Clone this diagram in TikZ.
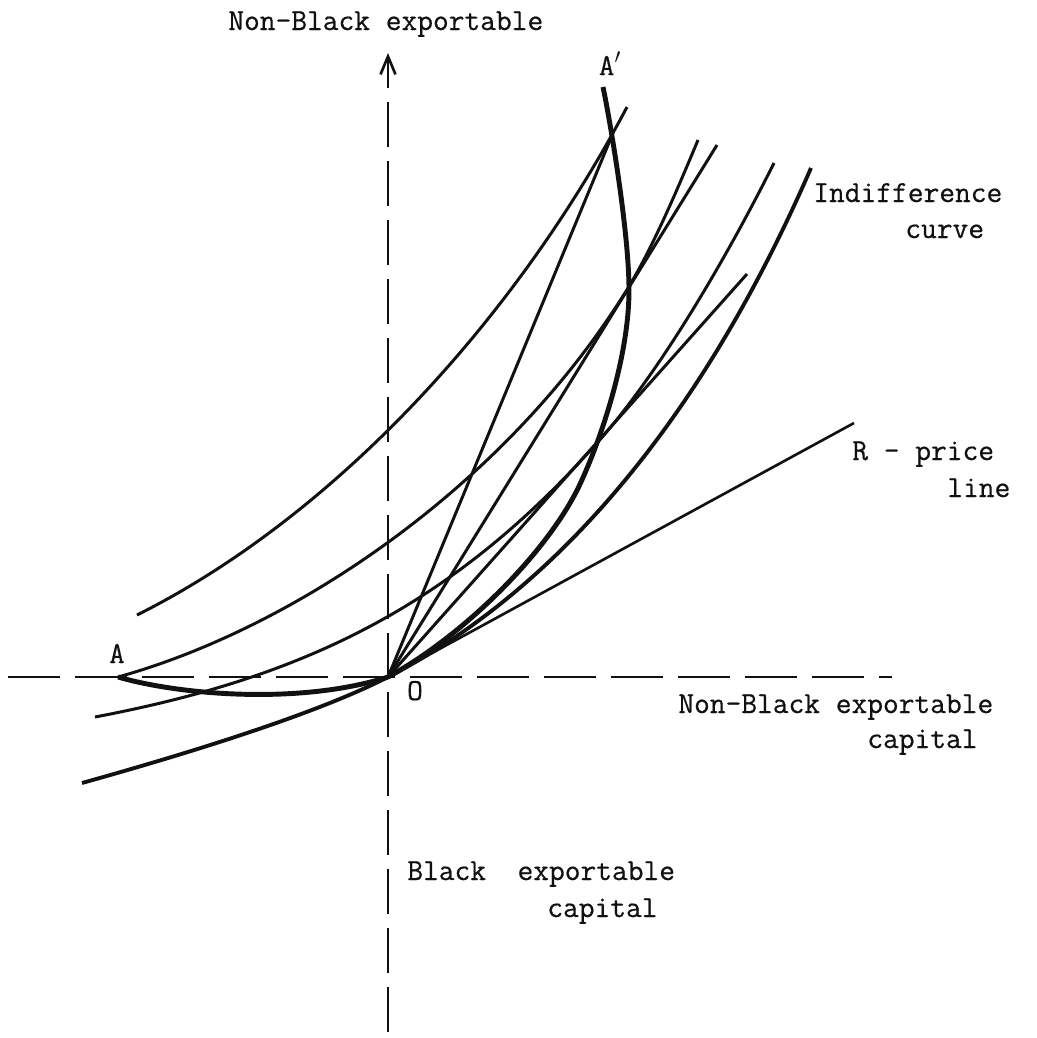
\documentclass[tikz,border=0pt]{standalone}
\usepackage{fontspec}
\newfontfamily\typewriter{Latin Modern Mono}[FakeBold=0.6]
\usetikzlibrary{arrows.meta}
\definecolor{plotInk}{HTML}{111111}
\tikzset{
  every picture/.style={font=\typewriter\fontsize{17.4}{20}\selectfont, text=plotInk},
  plot axis/.style={draw=plotInk, line width=1.5pt, dash pattern=on 9mm off 2.8mm},
  plot curve/.style={draw=plotInk, line width=1.7pt},
  plot locus/.style={draw=plotInk, line width=2.8pt},
  plot price/.style={draw=plotInk, line width=1.5pt},
  plot label/.style={anchor=base west, inner sep=0pt},
  plot arrow/.style={-{Straight Barb[length=3.6mm,width=3mm]}}
}

\begin{document}
\begin{tikzpicture}[x=0.02cm, y=-0.02cm]
  \useasboundingbox (0,0) rectangle (1037,1038);
  % origin and axis ends
  \coordinate (O) at (388,677);
  \coordinate (A) at (118,677);
  \coordinate (Ap) at (603,87);
  \coordinate (ybot) at (388,1032);
  \coordinate (ytop) at (388,53);
  \coordinate (xleft) at (8,677);
  \coordinate (xright) at (892,677);
  % ends of the price lines
  \coordinate (p1) at (613,133);
  \coordinate (p2) at (717,145);
  \coordinate (p3) at (747,274);
  \coordinate (pR) at (854,423);
  % tangency points on O A'
  \coordinate (t2) at (628,288);
  \coordinate (t3) at (597,443);

  \draw[plot axis, plot arrow] (ybot) -- (ytop);
  \draw[plot axis, dash pattern=on 10.4mm off 3mm] (xleft) -- (xright);

  % indifference curves
  \draw[plot curve] (137,615) .. controls (337,515) and (517,316) .. (627,107);
  \draw[plot curve] (A) .. controls (298,627) and (508,483) .. (t2)
    .. controls (653,247) and (678,188) .. (698,140);
  \draw[plot curve] (95,717) .. controls (295,679) and (447,612) .. (t3)
    .. controls (657,376) and (724,263) .. (774,163);
  \draw[plot curve, line width=2.2pt] (82,783) .. controls (200,750) and (320,712) .. (O)
    .. controls (538,600) and (691,444) .. (811,168);

  % price lines through O
  \draw[plot curve] (O) -- (p1);
  \draw[plot curve] (O) -- (p2);
  \draw[plot curve] (O) -- (p3);
  \draw[plot price] (O) -- (pR);

  % offer curve A O A'
  \draw[plot locus] (A) .. controls (180,695) and (300,705) .. (O);
  \draw[plot locus] (O) .. controls (468,633) and (551,548) .. (581,482)
    .. controls (606,427) and (629,350) .. (629,290)
    .. controls (629,230) and (609,115) .. (Ap);

  % labels
  \node[plot label] (ylab) at (228,30) {Non-Black exportable};
  \node[plot label] (indiff) at (813,202) {Indifference};
  \node[plot label] (indiff2) at (905,238) {curve};
  \node[plot label] (rlab) at (852,460) {R - price};
  \node[plot label] (rlab2) at (947,497) {line};
  \node[plot label] (xlab) at (678,713) {Non-Black exportable};
  \node[plot label] (xlab2) at (867,748) {capital};
  \node[plot label] (blab) at (407,880) {Black\ \ exportable};
  \node[plot label] (blab2) at (547,917) {capital};
  \node[anchor=base, inner sep=0pt] (Alab) at (117,663) {A};
  \node[anchor=base, inner sep=0pt] (Aplab) at (610,75) {A$^{\prime}$};
  \node[anchor=base, inner sep=0pt] (Olab) at (415,700) {O};
\end{tikzpicture}
\end{document}
